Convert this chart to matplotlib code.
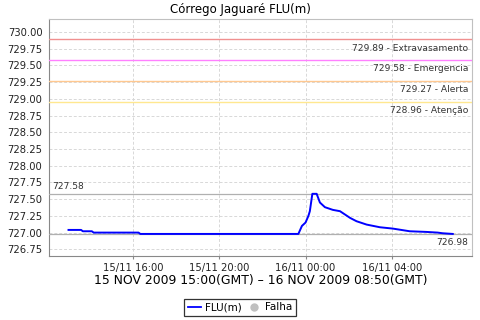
import pandas as pd
import matplotlib
matplotlib.use('Agg')
import matplotlib.pyplot as plt
import matplotlib.dates as mdates
from matplotlib.lines import Line2D

# ------------------------------------------------------------------
# Data (local clock, GMT-2)
# ------------------------------------------------------------------
times = ['2009-11-15 13:00', '2009-11-15 13:35', '2009-11-15 13:40', '2009-11-15 14:05',
         '2009-11-15 14:10', '2009-11-15 16:15', '2009-11-15 16:20', '2009-11-15 23:40',
         '2009-11-15 23:50', '2009-11-16 00:00', '2009-11-16 00:08', '2009-11-16 00:12',
         '2009-11-16 00:19', '2009-11-16 00:31', '2009-11-16 00:40', '2009-11-16 00:54',
         '2009-11-16 01:16', '2009-11-16 01:36', '2009-11-16 02:04', '2009-11-16 02:22',
         '2009-11-16 02:50', '2009-11-16 03:27', '2009-11-16 04:03', '2009-11-16 04:50',
         '2009-11-16 05:37', '2009-11-16 06:08', '2009-11-16 06:22', '2009-11-16 06:50']
flu = [727.04, 727.04, 727.02, 727.02,
       727.00, 727.00, 726.98, 726.98,
       727.10, 727.15, 727.25, 727.32,
       727.58, 727.58, 727.45, 727.38,
       727.34, 727.32, 727.22, 727.17,
       727.12, 727.08, 727.06, 727.02,
       727.01, 727.00, 726.99, 726.98]

levels = [729.89, 729.58, 729.27, 728.96]
level_names = ['Extravasamento', 'Emergencia', 'Alerta', 'Atenção']
level_colors = ['#f09090', '#ff80ff', '#ffc890', '#ffe890']

flu_max = 727.58
flu_min = 726.98

title = 'Córrego Jaguaré FLU(m)'
xlabel = '15 NOV 2009 15:00(GMT) – 16 NOV 2009 08:50(GMT)'

t = pd.to_datetime(times)

# ------------------------------------------------------------------
# Figure
# ------------------------------------------------------------------
fig = plt.figure(figsize=(4.8, 3.2), dpi=100)
ax = fig.add_axes([0.1027, 0.2, 0.8806, 0.7397])

ax.plot(t, flu, color='#0000ff', lw=1.4, zorder=5)
ax.margins(x=0.05)
ax.set_ylim(726.65, 730.19)
ax.set_yticks([726.75 + 0.25 * i for i in range(14)])
ax.yaxis.set_major_formatter(matplotlib.ticker.FormatStrFormatter('%.2f'))

ax.xaxis.set_major_locator(mdates.HourLocator(byhour=[0, 4, 16, 20]))
ax.xaxis.set_major_formatter(mdates.DateFormatter('%d/%m %H:%M'))

ax.grid(True, color='#d8d8d8', ls=(0, (3, 2)), lw=0.7)
ax.set_axisbelow(True)

# threshold lines and labels
for lv, name, col in zip(levels, level_names, level_colors):
    ax.axhline(lv, color=col, lw=1.0, zorder=3)
    ax.annotate(f'{lv:.2f} - {name}', xy=(1, lv), xycoords=('axes fraction', 'data'),
                xytext=(-2.5, -3), textcoords='offset points', ha='right', va='top',
                fontsize=6.6, color='#333333')

# max / min markers
ax.axhline(flu_max, color='#b0b0b0', lw=0.9, zorder=3)
ax.axhline(flu_min, color='#b0b0b0', lw=0.9, zorder=3)
ax.annotate(f'{flu_max:.2f}', xy=(0, flu_max), xycoords=('axes fraction', 'data'),
            xytext=(2, 2), textcoords='offset points', ha='left', va='bottom',
            fontsize=6.6, color='#333333')
ax.annotate(f'{flu_min:.2f}', xy=(1, flu_min), xycoords=('axes fraction', 'data'),
            xytext=(-2.5, -3), textcoords='offset points', ha='right', va='top',
            fontsize=6.6, color='#333333')

for side in ['left', 'bottom']:
    ax.spines[side].set_color('#888888')
for side in ['top', 'right']:
    ax.spines[side].set_color('#c0c0c0')
ax.tick_params(axis='y', length=0, labelsize=7.2, pad=5, colors='#222222')
ax.tick_params(axis='x', length=2, color='#888888', labelsize=7.2, pad=3, colors='#222222')

# title is centred on the figure, not on the axes
fig.text(0.5, 1 - 9.5 / 320, title, fontsize=8.5, ha='center', va='center')
ax.set_xlabel(xlabel, fontsize=8.9, labelpad=1)

handles = [Line2D([], [], color='#0000ff', lw=1.3),
           Line2D([], [], ls='none', marker='o', color='#c0c0c0', markersize=5)]
leg = fig.legend(handles, ['FLU(m)', 'Falha'], loc='center', bbox_to_anchor=(0.5, 0.04),
                 ncol=2, fontsize=7.5, frameon=True, fancybox=False, edgecolor='black',
                 handlelength=1.3, handletextpad=0.4, columnspacing=0.5,
                 borderpad=0.35, borderaxespad=0)
leg.get_frame().set_linewidth(0.9)

fig.savefig('out.png', dpi=100)
